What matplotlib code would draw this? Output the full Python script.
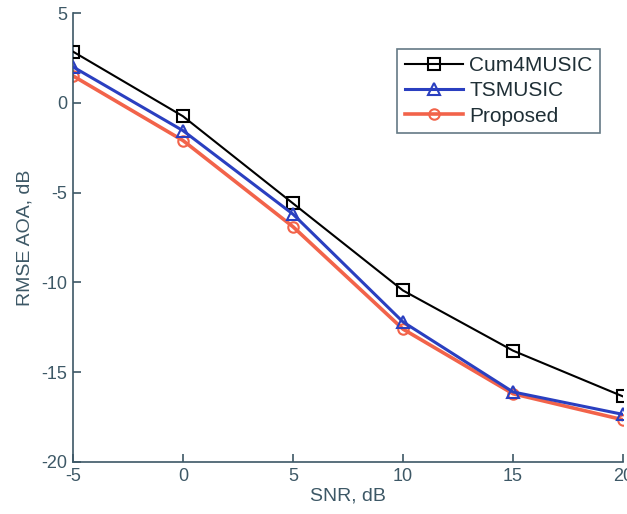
import matplotlib
matplotlib.use("Agg")
import matplotlib.pyplot as plt

snr = [-5, 0, 5, 10, 15, 20]
cum4music = [2.85, -0.75, -5.6, -10.45, -13.8, -16.35]
tsmusic = [2.0, -1.55, -6.2, -12.2, -16.1, -17.35]
proposed = [1.5, -2.1, -6.9, -12.6, -16.2, -17.65]
xticks = [-5, 0, 5, 10, 15, 20]
yticks = [-20, -15, -10, -5, 0, 5]

axcol = "#3d5866"
plt.rcParams['font.family'] = ['Liberation Sans', 'DejaVu Sans']
plt.rcParams['axes.unicode_minus'] = False

fig = plt.figure(figsize=(6.27, 5.14), dpi=100)
ax = fig.add_axes([0.1164, 0.1012, 0.8772, 0.8735])

ax.plot(snr, cum4music, color="black", lw=1.5, marker="s", ms=8.5, mfc="none", mec="black", mew=1.5, label="Cum4MUSIC", zorder=3)
ax.plot(snr, tsmusic, color="#2a3fc0", lw=2.2, marker="^", ms=8.5, mfc="none", mec="#2a3fc0", mew=1.5, label="TSMUSIC", zorder=4)
ax.plot(snr, proposed, color="#f2634a", lw=2.6, marker="o", ms=7.5, mfc="none", mec="#f2634a", mew=1.5, label="Proposed", zorder=2)

ax.set_xlim(-5, 20)
ax.set_ylim(-20, 5)
ax.set_xticks(xticks)
ax.set_yticks(yticks)
for s in ["top", "right"]:
    ax.spines[s].set_visible(False)
for s in ["left", "bottom"]:
    ax.spines[s].set_color(axcol)
    ax.spines[s].set_linewidth(1.2)
ax.tick_params(direction="in", length=6, width=1.2, colors=axcol, labelsize=13, pad=4)
ax.set_xlabel("SNR, dB", fontsize=14, color=axcol, labelpad=2)
ax.set_ylabel("RMSE AOA, dB", fontsize=14, color=axcol, labelpad=6)

leg = ax.legend(loc="upper right", bbox_to_anchor=(0.958, 0.92), fontsize=15, frameon=True, fancybox=False,
                edgecolor=axcol, handlelength=2.8, borderpad=0.35, labelspacing=0.3, handletextpad=0.3,
                borderaxespad=0)
leg.get_frame().set_linewidth(1.2)
for t in leg.get_texts():
    t.set_color("#1f2f36")

fig.savefig("out.png", dpi=100)
